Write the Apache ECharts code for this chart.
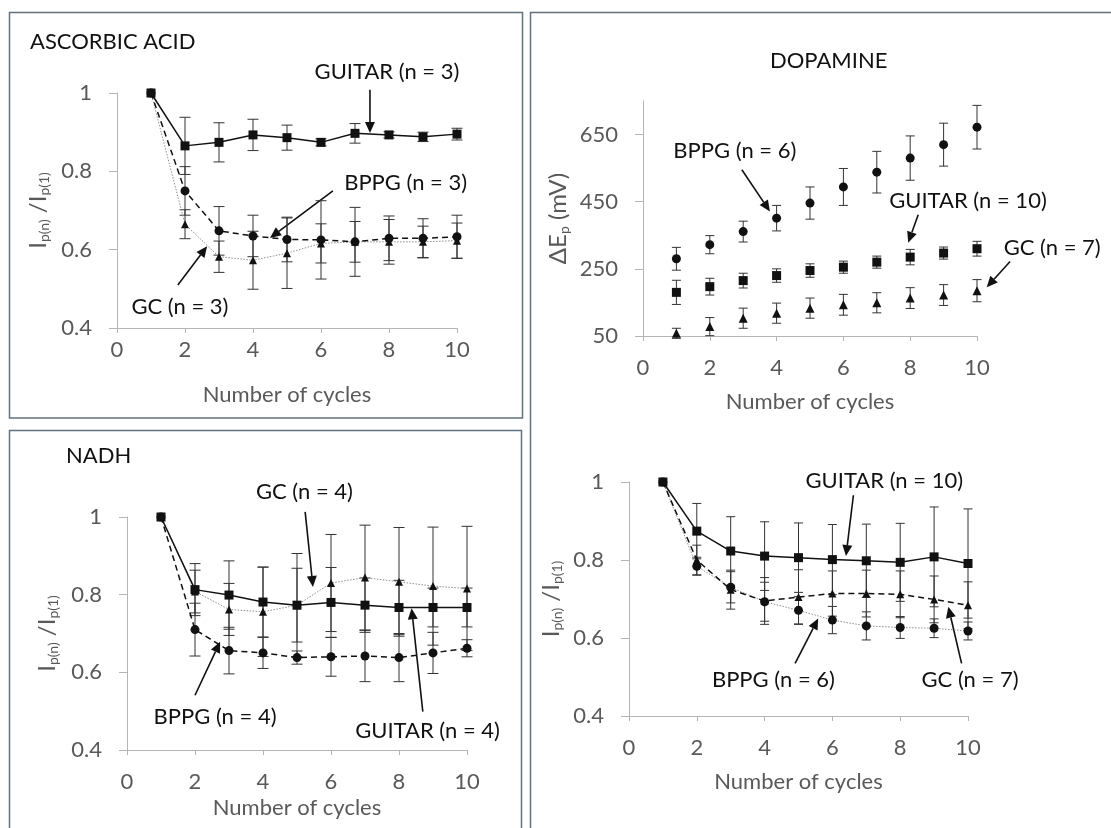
<!DOCTYPE html>
<html>
<head>
<meta charset="utf-8">
<script src="https://cdn.jsdelivr.net/npm/echarts@6/dist/echarts.min.js"></script>
<style>
  html, body { margin: 0; padding: 0; background: #fff; }
  #chart { width: 1111px; height: 828px; }
</style>
</head>
<body>
<div id="chart"></div>
<script>
// ---- data -------------------------------------------------------------
const cycles = [1, 2, 3, 4, 5, 6, 7, 8, 9, 10];
const xTicks = [0, 2, 4, 6, 8, 10];
const ratioTicks = [0.4, 0.6, 0.8, 1];
const deltaTicks = [50, 250, 450, 650];

// Ascorbic acid, Ip(n)/Ip(1)
const aaGuitar    = [1, 0.865, 0.874, 0.893, 0.886, 0.874, 0.897, 0.893, 0.888, 0.895];
const aaGuitarErr = [0, 0.073, 0.050, 0.040, 0.032, 0.009, 0.025, 0.008, 0.012, 0.015];
const aaBppg      = [1, 0.750, 0.648, 0.635, 0.626, 0.625, 0.620, 0.629, 0.629, 0.633];
const aaBppgErr   = [0, 0.062, 0.062, 0.053, 0.057, 0.100, 0.088, 0.057, 0.050, 0.055];
const aaGc        = [1, 0.665, 0.582, 0.573, 0.591, 0.616, 0.620, 0.620, 0.620, 0.623];
const aaGcErr     = [0, 0.037, 0.040, 0.074, 0.090, 0.050, 0.052, 0.057, 0.040, 0.045];

// NADH, Ip(n)/Ip(1)
const nadhGuitar    = [1, 0.813, 0.799, 0.781, 0.773, 0.780, 0.773, 0.767, 0.767, 0.767];
const nadhGuitarErr = [0, 0.067, 0.088, 0.090, 0.133, 0.090, 0.070, 0.070, 0.050, 0.050];
const nadhBppg      = [1, 0.710, 0.656, 0.650, 0.638, 0.640, 0.642, 0.638, 0.650, 0.662];
const nadhBppgErr   = [0, 0.068, 0.060, 0.040, 0.017, 0.050, 0.066, 0.062, 0.053, 0.022];
const nadhGc        = [1, 0.808, 0.762, 0.756, 0.773, 0.830, 0.844, 0.833, 0.822, 0.816];
const nadhGcErr     = [0, 0.055, 0.067, 0.115, 0.095, 0.125, 0.135, 0.140, 0.152, 0.160];

// Dopamine, peak separation (mV)
const dpBppg      = [280, 322, 361, 401, 446, 494, 538, 580, 620, 672];
const dpBppgErr   = [34, 27, 31, 38, 48, 55, 62, 66, 64, 65];
const dpGuitar    = [180, 197, 215, 230, 245, 255, 270, 285, 297, 310];
const dpGuitarErr = [36, 25, 22, 20, 20, 18, 18, 23, 18, 22];
const dpGc        = [58, 78, 103, 118, 133, 143, 149, 163, 172, 185];
const dpGcErr     = [15, 27, 30, 30, 30, 31, 30, 31, 31, 33];

// Dopamine, Ip(n)/Ip(1)
const drGuitar    = [1, 0.874, 0.823, 0.810, 0.806, 0.801, 0.798, 0.794, 0.808, 0.791];
const drGuitarErr = [0, 0.071, 0.088, 0.088, 0.089, 0.090, 0.094, 0.100, 0.128, 0.140];
const drBppg      = [1, 0.784, 0.730, 0.693, 0.671, 0.646, 0.631, 0.627, 0.625, 0.618];
const drBppgErr   = [0, 0.023, 0.040, 0.050, 0.035, 0.035, 0.036, 0.028, 0.024, 0.023];
const drGc        = [1, 0.800, 0.724, 0.695, 0.705, 0.714, 0.714, 0.712, 0.699, 0.684];
const drGcErr     = [0, 0.038, 0.050, 0.060, 0.070, 0.058, 0.060, 0.060, 0.060, 0.060];

// ---- styling ----------------------------------------------------------
const FONT = 'Lato, "Noto Sans", sans-serif';
const AXIS_GREY = '#b5b5b5';
const TEXT_GREY = '#595959';
const INK = '#111';

const solid  = { color: INK, width: 1.5, type: 'solid' };
const dashed = { color: INK, width: 1.5, type: [6, 4] };
const dotted = { color: '#8f8f8f', width: 1, type: [1.5, 1.5] };

const ratioName = '{i|I}{s|p(n)}{i| /I}{s|p(1)}';
const deltaName = '{i|ΔE}{s|p}{i| (mV)}';
const nameRich = {
  i: { fontSize: 24, lineHeight: 26, fontFamily: FONT, color: TEXT_GREY },
  s: { fontSize: 14, lineHeight: 11, fontFamily: FONT, color: TEXT_GREY, verticalAlign: 'bottom' }
};

const panels = [
  { grid: { left: 117, top: 93, width: 340, height: 235 }, ratio: true,  labelMargin: 11, xNameGap: 56, yNameGap: 66 },
  { grid: { left: 127, top: 517, width: 340, height: 233 }, ratio: true,  labelMargin: 21, xNameGap: 47, yNameGap: 67 },
  { grid: { left: 643, top: 101, width: 334, height: 235 }, ratio: false, labelMargin: 21, xNameGap: 55, yNameGap: 72 },
  { grid: { left: 629, top: 482, width: 339, height: 234 }, ratio: true,  labelMargin: 21, xNameGap: 55, yNameGap: 65 }
];

const xAxes = panels.map((p, i) => ({
  gridIndex: i, type: 'value', min: 0, max: 10, interval: 2,
  name: 'Number of cycles', nameLocation: 'middle', nameGap: p.xNameGap,
  nameTextStyle: { fontFamily: FONT, fontSize: 22, color: TEXT_GREY },
  axisLine: { show: true, lineStyle: { color: AXIS_GREY, width: 1 } },
  axisTick: { show: true, length: 5, lineStyle: { color: AXIS_GREY }, customValues: xTicks },
  axisLabel: { fontFamily: FONT, fontSize: 22, color: TEXT_GREY, margin: p.labelMargin, customValues: xTicks },
  splitLine: { show: false }
}));

const yAxes = panels.map((p, i) => {
  const ticks = p.ratio ? ratioTicks : deltaTicks;
  return {
    gridIndex: i, type: 'value',
    min: p.ratio ? 0.4 : 50, max: p.ratio ? 1 : 750, interval: p.ratio ? 0.2 : 200,
    name: p.ratio ? ratioName : deltaName, nameLocation: 'middle', nameRotate: 90, nameGap: p.yNameGap,
    nameTextStyle: { rich: nameRich, fontFamily: FONT, color: TEXT_GREY },
    axisLine: { show: true, lineStyle: { color: AXIS_GREY, width: 1 } },
    axisTick: { show: true, length: 8, lineStyle: { color: AXIS_GREY }, customValues: ticks },
    axisLabel: { fontFamily: FONT, fontSize: 22, color: TEXT_GREY, margin: 25, customValues: ticks },
    splitLine: { show: false }
  };
});

function pairs(values) { return cycles.map((c, k) => [c, values[k]]); }

function markSeries(idx, name, values, symbol, size, lineStyle) {
  return {
    type: 'line', name, xAxisIndex: idx, yAxisIndex: idx,
    data: pairs(values), symbol, symbolSize: size, clip: false,
    showSymbol: true,
    itemStyle: { color: INK, borderWidth: 0 },
    lineStyle: lineStyle ? lineStyle : { width: 0, opacity: 0 },
    z: 3
  };
}

function errorSeries(idx, values, errs, cap) {
  const data = [];
  cycles.forEach((c, k) => {
    if (errs[k] > 0) data.push([c, values[k] - errs[k], values[k] + errs[k]]);
  });
  return {
    type: 'custom', xAxisIndex: idx, yAxisIndex: idx, data, z: 2,
    encode: { x: 0, y: [1, 2] },
    renderItem(params, api) {
      const x = api.value(0);
      const top = api.coord([x, api.value(2)]);
      const bot = api.coord([x, api.value(1)]);
      const h = cap / 2;
      const st = { stroke: '#333', lineWidth: 1 };
      return {
        type: 'group',
        children: [
          { type: 'line', shape: { x1: top[0], y1: top[1], x2: bot[0], y2: bot[1] }, style: st },
          { type: 'line', shape: { x1: top[0] - h, y1: top[1], x2: top[0] + h, y2: top[1] }, style: st },
          { type: 'line', shape: { x1: bot[0] - h, y1: bot[1], x2: bot[0] + h, y2: bot[1] }, style: st }
        ]
      };
    }
  };
}

const series = [
  // ascorbic acid
  errorSeries(0, aaGc, aaGcErr, 11),
  errorSeries(0, aaBppg, aaBppgErr, 11),
  errorSeries(0, aaGuitar, aaGuitarErr, 11),
  markSeries(0, 'GC', aaGc, 'triangle', 8, dotted),
  markSeries(0, 'BPPG', aaBppg, 'circle', 9, dashed),
  markSeries(0, 'GUITAR', aaGuitar, 'rect', 9, solid),
  // NADH
  errorSeries(1, nadhGc, nadhGcErr, 11),
  errorSeries(1, nadhBppg, nadhBppgErr, 11),
  errorSeries(1, nadhGuitar, nadhGuitarErr, 11),
  markSeries(1, 'GC', nadhGc, 'triangle', 8, dotted),
  markSeries(1, 'BPPG', nadhBppg, 'circle', 9, dashed),
  markSeries(1, 'GUITAR', nadhGuitar, 'rect', 9, solid),
  // dopamine peak separation
  errorSeries(2, dpGc, dpGcErr, 9),
  errorSeries(2, dpBppg, dpBppgErr, 9),
  errorSeries(2, dpGuitar, dpGuitarErr, 9),
  markSeries(2, 'GC', dpGc, 'triangle', 9, null),
  markSeries(2, 'BPPG', dpBppg, 'circle', 9, null),
  markSeries(2, 'GUITAR', dpGuitar, 'rect', 9, null),
  // dopamine current ratio
  errorSeries(3, drBppg, drBppgErr, 9),
  errorSeries(3, drGc, drGcErr, 9),
  errorSeries(3, drGuitar, drGuitarErr, 9),
  markSeries(3, 'BPPG', drBppg, 'circle', 9, dotted),
  markSeries(3, 'GC', drGc, 'triangle', 8, dashed),
  markSeries(3, 'GUITAR', drGuitar, 'rect', 9, solid)
];

const titleStyle = { fontFamily: FONT, fontSize: 22, fontWeight: 'normal', color: INK };

const chart = echarts.init(document.getElementById('chart'));
chart.setOption({
  animation: false,
  backgroundColor: '#fff',
  title: [
    { text: 'ASCORBIC ACID', left: 30, top: 31, padding: 0, textStyle: titleStyle },
    { text: 'NADH', left: 66, top: 445, padding: 0, textStyle: titleStyle },
    { text: 'DOPAMINE', left: 770, top: 50, padding: 0, textStyle: titleStyle }
  ],
  grid: panels.map(p => Object.assign({ containLabel: false }, p.grid)),
  xAxis: xAxes,
  yAxis: yAxes,
  series
});

// ---- callouts: text and arrow in each panel's data space ---------------
const callouts = [
  { grid: 0, text: 'GUITAR (n = 3)', at: [7.94, 1.054], from: [7.44, 1.008], to: [7.44, 0.898] },
  { grid: 0, text: 'BPPG (n = 3)',   at: [8.49, 0.770], from: [6.35, 0.750], to: [4.50, 0.630] },
  { grid: 0, text: 'GC (n = 3)',     at: [1.85, 0.453], from: [1.79, 0.510], to: [2.65, 0.609] },
  { grid: 1, text: 'GC (n = 4)',     at: [5.22, 1.064], from: [5.24, 1.013], to: [5.47, 0.820] },
  { grid: 1, text: 'BPPG (n = 4)',   at: [2.59, 0.486], from: [2.00, 0.541], to: [2.74, 0.679] },
  { grid: 1, text: 'GUITAR (n = 4)', at: [8.84, 0.449], from: [8.70, 0.499], to: [8.37, 0.765] },
  { grid: 2, text: 'BPPG (n = 6)',   at: [2.75, 600],   from: [2.96, 545],   to: [3.80, 421] },
  { grid: 2, text: 'GUITAR (n = 10)', at: [9.73, 453],  from: [8.24, 411],   to: [7.94, 328] },
  { grid: 2, text: 'GC (n = 7)',     at: [12.25, 312],  from: [10.99, 272],  to: [10.29, 195] },
  { grid: 3, text: 'GUITAR (n = 10)', at: [7.53, 1.004], from: [6.62, 0.966], to: [6.40, 0.810] },
  { grid: 3, text: 'BPPG (n = 6)',   at: [4.26, 0.492], from: [4.90, 0.535], to: [5.58, 0.650] },
  { grid: 3, text: 'GC (n = 7)',     at: [10.06, 0.492], from: [9.81, 0.535], to: [9.42, 0.680] }
];

const frame = { stroke: '#64727e', lineWidth: 1.5, fill: null };
const graphic = [
  { type: 'rect', shape: { x: 9.5, y: 12.5, width: 513, height: 405.5 }, style: frame, silent: true },
  { type: 'rect', shape: { x: 9.5, y: 430.5, width: 512, height: 420 }, style: frame, silent: true },
  { type: 'rect', shape: { x: 530.5, y: 12.5, width: 600, height: 840 }, style: frame, silent: true }
];

callouts.forEach(c => {
  const px = v => chart.convertToPixel({ gridIndex: c.grid }, v);
  const a = px(c.at), f = px(c.from), t = px(c.to);
  const dx = t[0] - f[0], dy = t[1] - f[1];
  const len = Math.hypot(dx, dy);
  const ux = dx / len, uy = dy / len;
  const headL = 11, headW = 10;
  const bx = t[0] - ux * headL, by = t[1] - uy * headL;
  graphic.push({
    type: 'text', x: a[0], y: a[1], silent: true,
    style: { text: c.text, fontFamily: FONT, fontSize: 22, fill: INK, align: 'center', verticalAlign: 'middle' }
  });
  graphic.push({
    type: 'line', silent: true,
    shape: { x1: f[0], y1: f[1], x2: bx, y2: by },
    style: { stroke: INK, lineWidth: 1.6 }
  });
  graphic.push({
    type: 'polygon', silent: true,
    shape: { points: [t, [bx - uy * headW / 2, by + ux * headW / 2], [bx + uy * headW / 2, by - ux * headW / 2]] },
    style: { fill: INK }
  });
});

chart.setOption({ graphic });
</script>
</body>
</html>
